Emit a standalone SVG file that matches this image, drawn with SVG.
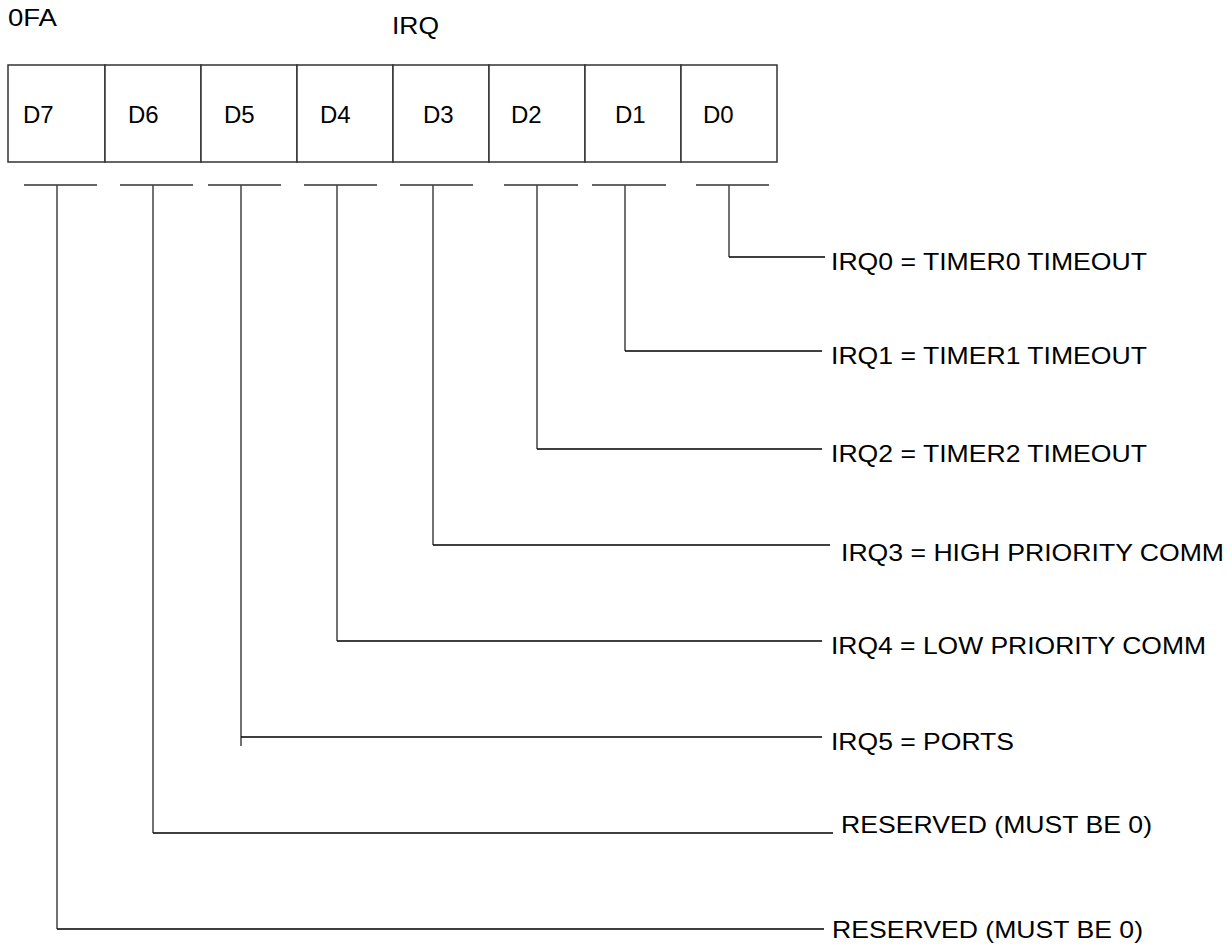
<svg xmlns="http://www.w3.org/2000/svg" width="1232" height="946" viewBox="0 0 1232 946">
<style>
text{font-family:"Liberation Sans",Arial,sans-serif;font-size:24px;fill:#000}
.cell{fill:#fff;stroke:#333;stroke-width:1.5}
.tick{stroke:#333;stroke-width:1.5;fill:none}
.wire{stroke:#000;stroke-width:1.5;fill:none}
.vw{stroke:#444;stroke-width:1.5;fill:none}
</style>
<rect width="1232" height="946" fill="#fff"/>
<g id="title">
<text x="8" y="26" textLength="49" lengthAdjust="spacingAndGlyphs">0FA</text>
<text x="392" y="34" textLength="47" lengthAdjust="spacingAndGlyphs">IRQ</text>
</g>
<g id="register">
<rect class="cell" x="8" y="65" width="97" height="97"/>
<rect class="cell" x="105" y="65" width="96" height="97"/>
<rect class="cell" x="201" y="65" width="96" height="97"/>
<rect class="cell" x="297" y="65" width="96" height="97"/>
<rect class="cell" x="393" y="65" width="96" height="97"/>
<rect class="cell" x="489" y="65" width="96" height="97"/>
<rect class="cell" x="585" y="65" width="96" height="97"/>
<rect class="cell" x="681" y="65" width="96" height="97"/>
<text x="23" y="123">D7</text>
<text x="128" y="123">D6</text>
<text x="224" y="123">D5</text>
<text x="320" y="123">D4</text>
<text x="423" y="123">D3</text>
<text x="511" y="123">D2</text>
<text x="615" y="123">D1</text>
<text x="703" y="123">D0</text>
</g>
<g id="connectors">
<path class="tick" d="M24 185H97M120 185H193M208 185H281M304 185H377M400 185H473M504 185H578M592 185H666M696 185H769"/>
<path class="vw" d="M729 185V257M625 185V351M537 185V449M433 185V545M337 185V641M241 185V746M153 185V833M57 185V929"/>
<path class="wire" d="M729 257H825M625 351H822M537 449H822M433 545H830M337 641H822M241 737H822M153 833H833M57 929H824"/>
</g>
<g id="labels">
<text x="831" y="270" textLength="316" lengthAdjust="spacingAndGlyphs">IRQ0 = TIMER0 TIMEOUT</text>
<text x="831" y="364" textLength="316" lengthAdjust="spacingAndGlyphs">IRQ1 = TIMER1 TIMEOUT</text>
<text x="831" y="462" textLength="316" lengthAdjust="spacingAndGlyphs">IRQ2 = TIMER2 TIMEOUT</text>
<text x="841" y="561" textLength="383" lengthAdjust="spacingAndGlyphs">IRQ3 = HIGH PRIORITY COMM</text>
<text x="831" y="654" textLength="375" lengthAdjust="spacingAndGlyphs">IRQ4 = LOW PRIORITY COMM</text>
<text x="831" y="750" textLength="183" lengthAdjust="spacingAndGlyphs">IRQ5 = PORTS</text>
<text x="841" y="833" textLength="311" lengthAdjust="spacingAndGlyphs">RESERVED (MUST BE 0)</text>
<text x="832" y="938" textLength="311" lengthAdjust="spacingAndGlyphs">RESERVED (MUST BE 0)</text>
</g>
</svg>
